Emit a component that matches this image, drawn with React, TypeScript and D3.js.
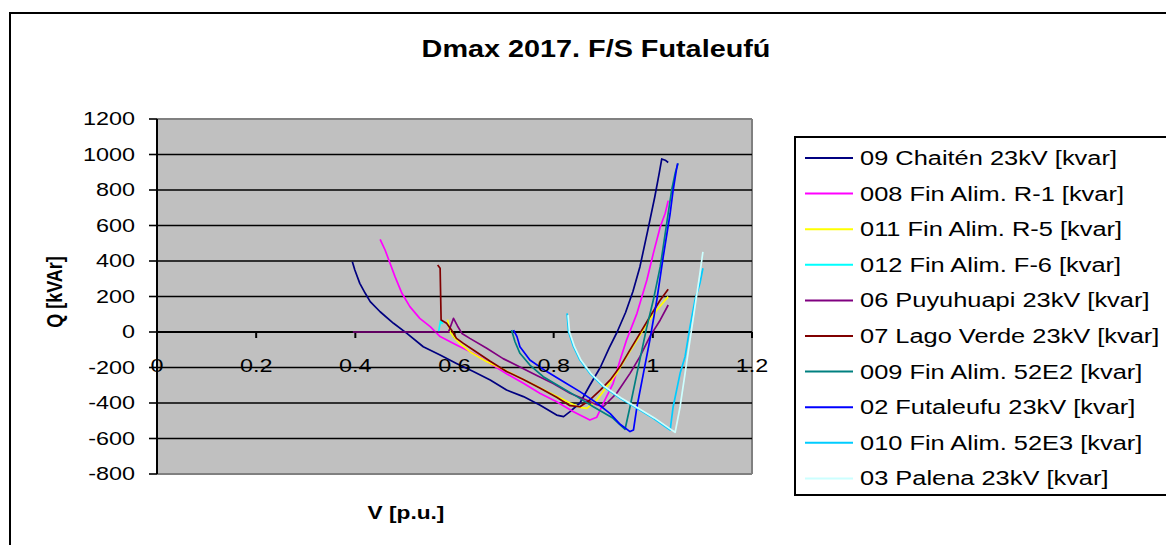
import React from "react";
import * as d3 from "d3";

const title = "Dmax 2017. F/S Futaleufú";
const xTitle = "V [p.u.]";
const yTitle = "Q [kVAr]";
const xTicks = [0, 0.2, 0.4, 0.6, 0.8, 1, 1.2];
const yTicks = [1200, 1000, 800, 600, 400, 200, 0, -200, -400, -600, -800];

const seriesNames = [
  "09 Chaitén 23kV [kvar]",
  "008 Fin Alim. R-1 [kvar]",
  "011 Fin Alim. R-5 [kvar]",
  "012 Fin Alim. F-6 [kvar]",
  "06 Puyuhuapi 23kV [kvar]",
  "07 Lago Verde 23kV [kvar]",
  "009 Fin Alim. 52E2 [kvar]",
  "02 Futaleufu 23kV [kvar]",
  "010 Fin Alim. 52E3 [kvar]",
  "03 Palena 23kV [kvar]",
];
const seriesColors = ["#000080", "#FF00FF", "#FFFF00", "#00FFFF", "#800080", "#800000", "#008080", "#0000FF", "#00CCFF", "#CCFFFF"];

// [V p.u., Q kVAr]
const chaiten: [number, number][] = [
  [0.394, 396], [0.399, 349], [0.409, 274], [0.42, 218], [0.43, 171], [0.45, 114], [0.477, 49], [0.504, -8],
  [0.537, -83], [0.571, -130], [0.604, -177], [0.638, -223], [0.672, -270], [0.705, -327], [0.739, -364],
  [0.772, -411], [0.806, -468], [0.82, -477], [0.833, -449], [0.853, -400], [0.873, -300], [0.894, -200],
  [0.912, -90], [0.928, 0], [0.945, 110], [0.96, 230], [0.974, 368], [0.99, 575], [1.004, 762], [1.013, 896],
  [1.018, 975], [1.025, 968], [1.031, 955],
];
const r1: [number, number][] = [
  [0.45, 522], [0.46, 462], [0.47, 387], [0.48, 312], [0.494, 218], [0.51, 143], [0.53, 77], [0.551, 30],
  [0.571, -26], [0.604, -73], [0.638, -120], [0.672, -177], [0.705, -235], [0.739, -289], [0.772, -345],
  [0.806, -393], [0.84, -449], [0.873, -496], [0.887, -480], [0.9, -402], [0.92, -289], [0.934, -158],
  [0.947, -45], [0.968, 105], [0.988, 293], [1.001, 443], [1.015, 593], [1.025, 669], [1.031, 740],
];
const r5: [number, number][] = [
  [0.586, 70], [0.591, 2], [0.598, -26], [0.611, -64], [0.631, -111], [0.665, -167], [0.698, -210],
  [0.732, -258], [0.766, -305], [0.799, -352], [0.833, -400], [0.853, -425], [0.867, -430], [0.887, -383],
  [0.907, -308], [0.927, -233], [0.947, -139], [0.968, -45], [0.988, 49], [1.008, 124], [1.031, 199],
];
const f6: [number, number][] = [
  [0.568, 2], [0.572, 65], [0.576, 45],
];
const puyuhuapi: [number, number][] = [
  [0.395, 0], [0.588, 0], [0.598, 77], [0.606, 34], [0.615, -8], [0.631, -36], [0.665, -92], [0.698, -150],
  [0.732, -197], [0.766, -245], [0.799, -290], [0.833, -345], [0.867, -385], [0.887, -410], [0.9, -421],
  [0.927, -345], [0.954, -233], [0.974, -139], [0.994, -26], [1.015, 68], [1.031, 152],
];
const lagoVerde: [number, number][] = [
  [0.566, 377], [0.571, 359], [0.573, 68], [0.584, 49], [0.594, 11], [0.604, -36], [0.618, -64],
  [0.638, -101], [0.672, -165], [0.705, -222], [0.739, -268], [0.772, -315], [0.806, -368], [0.833, -415],
  [0.853, -421], [0.873, -383], [0.894, -327], [0.914, -270], [0.934, -195], [0.954, -101], [0.974, -8],
  [0.994, 86], [1.015, 180], [1.031, 241],
];
const e2: [number, number][] = [
  [0.715, 11], [0.722, -55], [0.732, -120], [0.752, -186], [0.779, -252], [0.813, -308], [0.847, -364],
  [0.88, -421], [0.92, -486], [0.944, -548], [0.954, -421], [0.968, -233], [0.988, 30], [1.001, 180],
  [1.015, 368], [1.028, 612], [1.038, 800], [1.045, 894], [1.051, 950],
];
const futaleufu: [number, number][] = [
  [0.719, 11], [0.726, -26], [0.732, -83], [0.752, -158], [0.786, -223], [0.82, -280], [0.853, -336],
  [0.887, -400], [0.914, -460], [0.934, -520], [0.954, -561], [0.961, -552], [0.968, -421], [0.981, -233],
  [0.994, -45], [1.008, 180], [1.021, 424], [1.035, 669], [1.041, 800], [1.048, 922], [1.05, 950],
];
const e3: [number, number][] = [
  [0.827, 105], [0.83, 2], [0.84, -83], [0.853, -158], [0.873, -233], [0.9, -308], [0.934, -374],
  [0.968, -430], [1.001, -486], [1.035, -552], [1.041, -421], [1.055, -233], [1.065, -139], [1.075, 30],
  [1.085, 180], [1.095, 274], [1.101, 359],
];
const palena: [number, number][] = [
  [0.829, 95], [0.832, 0], [0.842, -83], [0.855, -158], [0.875, -233], [0.902, -306], [0.936, -372],
  [0.97, -428], [1.003, -484], [1.037, -550], [1.045, -565], [1.055, -421], [1.065, -233], [1.075, -45],
  [1.085, 143], [1.095, 330], [1.101, 452],
];

const seriesData = [chaiten, r1, r5, f6, puyuhuapi, lagoVerde, e2, futaleufu, e3, palena];

const FONT = "'Liberation Sans', Arial, sans-serif";

function T(props: { x: number; y: number; sx?: number; size: number; bold?: boolean; anchor?: string; children: any }) {
  const { x, y, sx = 1, size, bold, anchor = "start", children } = props;
  return (
    <text
      transform={`translate(${x},${y}) scale(${sx},1)`}
      fontSize={size}
      fontFamily={FONT}
      fontWeight={bold ? "bold" : "normal"}
      textAnchor={anchor}
      fill="#000"
    >
      {children}
    </text>
  );
}

export default function App() {
  const W = 1166, H = 545;
  const L = 157, R = 752, Tp = 119, B = 474;
  const x = d3.scaleLinear().domain([0, 1.2]).range([L, R]);
  const y = d3.scaleLinear().domain([-800, 1200]).range([B, Tp]);
  const line = d3.line<[number, number]>().x((d) => x(d[0])).y((d) => y(d[1]));

  const legX = 795, legY = 137, rowH = 35.6;

  return (
    <svg width={W} height={H} style={{ position: "absolute", left: 0, top: 0, background: "#fff" }}>
      <rect x={0} y={0} width={W} height={H} fill="#fff" />
      <rect x={10} y={13} width={1170} height={560} fill="#fff" stroke="#000" strokeWidth={2} />
      <T x={596} y={57} sx={1.2} size={24} bold anchor="middle">{title}</T>

      {/* plot area */}
      <rect x={L} y={Tp} width={R - L} height={B - Tp} fill="#C0C0C0" />
      <line x1={L} x2={R} y1={Tp} y2={Tp} stroke="#808080" strokeWidth={2} />
      <line x1={R} x2={R} y1={Tp} y2={B} stroke="#808080" strokeWidth={2} />
      <line x1={L} x2={R} y1={B} y2={B} stroke="#808080" strokeWidth={2} />
      {yTicks.filter((v) => v !== 1200 && v !== -800).map((v) => (
        <line key={v} x1={L} x2={R} y1={y(v)} y2={y(v)} stroke="#000" strokeWidth={1.6} />
      ))}

      {/* y axis */}
      <line x1={L} x2={L} y1={Tp} y2={B} stroke="#000" strokeWidth={2} />
      {yTicks.map((v) => (
        <g key={v}>
          <line x1={L - 8} x2={L} y1={y(v)} y2={y(v)} stroke="#000" strokeWidth={1.6} />
          <T x={135} y={y(v) + 6} sx={1.3} size={18} anchor="end">{String(v)}</T>
        </g>
      ))}
      {/* x axis at Q = 0 */}
      <line x1={L} x2={R} y1={y(0)} y2={y(0)} stroke="#000" strokeWidth={2} />
      {xTicks.map((v) => (
        <line key={v} x1={x(v)} x2={x(v)} y1={y(0)} y2={y(0) + 6} stroke="#000" strokeWidth={2} />
      ))}

      {/* series */}
      {seriesData.map((d, i) => (
        <path key={i} d={line(d) || ""} fill="none" stroke={seriesColors[i]} strokeWidth={1.7} strokeLinejoin="round" />
      ))}

      {xTicks.map((v) => (
        <T key={v} x={x(v)} y={372} sx={1.3} size={18} anchor="middle">{String(v)}</T>
      ))}

      <T x={406} y={519} sx={1.26} size={18} bold anchor="middle">{xTitle}</T>
      <text
        transform={`translate(62,292) scale(1.27,1) rotate(-90)`}
        fontSize={18}
        fontFamily={FONT}
        fontWeight="bold"
        textAnchor="middle"
      >
        {yTitle}
      </text>

      {/* legend */}
      <rect x={legX} y={legY} width={400} height={358} fill="#fff" stroke="#000" strokeWidth={2} />
      {seriesNames.map((n, i) => {
        const cy = 158 + i * rowH;
        return (
          <g key={n}>
            <line x1={805} x2={853} y1={cy} y2={cy} stroke={seriesColors[i]} strokeWidth={2} />
            <T x={860} y={cy + 7} sx={1.27} size={20}>{n}</T>
          </g>
        );
      })}
    </svg>
  );
}
